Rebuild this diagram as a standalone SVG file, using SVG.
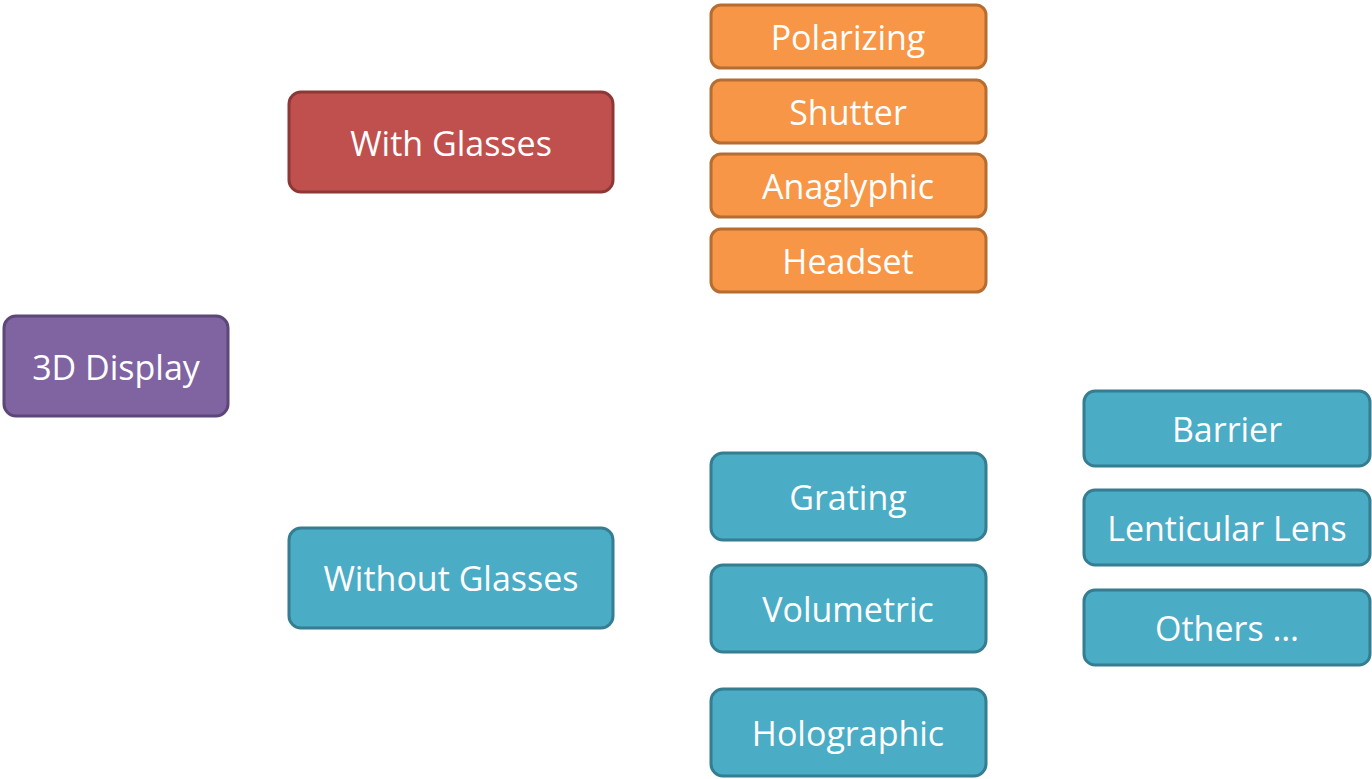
<svg xmlns="http://www.w3.org/2000/svg" width="1372" height="779" viewBox="0 0 1372 779">
<style>
rect{stroke-width:3}
.p{fill:#8064A2;stroke:#5C4776}
.r{fill:#C0504D;stroke:#8C3836}
.o{fill:#F79646;stroke:#B66D31}
.b{fill:#4BACC6;stroke:#357D91}
text{font-family:"Open Sans","Noto Sans",sans-serif;font-size:34px;fill:#FFFFFF;text-anchor:middle;dominant-baseline:central}
</style>
<rect width="1372" height="779" fill="#FFFFFF" stroke="none"/>
<g id="connectors"></g>
<g id="n-3d"><rect class="p" x="4" y="316" width="224" height="100" rx="12"/><text x="116" y="367">3D Display</text></g>
<g id="n-with"><rect class="r" x="289" y="92" width="324" height="100" rx="12"/><text x="451" y="143">With Glasses</text></g>
<g id="n-without"><rect class="b" x="289" y="528" width="324" height="100" rx="12"/><text x="451" y="578">Without Glasses</text></g>
<g id="n-polarizing"><rect class="o" x="711" y="5" width="275" height="63" rx="10"/><text x="848" y="37">Polarizing</text></g>
<g id="n-shutter"><rect class="o" x="711" y="80" width="275" height="63" rx="10"/><text x="848" y="112">Shutter</text></g>
<g id="n-anaglyphic"><rect class="o" x="711" y="154" width="275" height="63" rx="10"/><text x="848" y="186">Anaglyphic</text></g>
<g id="n-headset"><rect class="o" x="711" y="229" width="275" height="63" rx="10"/><text x="848" y="261">Headset</text></g>
<g id="n-grating"><rect class="b" x="711" y="453" width="275" height="87" rx="12"/><text x="848" y="497">Grating</text></g>
<g id="n-volumetric"><rect class="b" x="711" y="565" width="275" height="87" rx="12"/><text x="848" y="609">Volumetric</text></g>
<g id="n-holographic"><rect class="b" x="711" y="689" width="275" height="87" rx="12"/><text x="848" y="733">Holographic</text></g>
<g id="n-barrier"><rect class="b" x="1084" y="391" width="286" height="75" rx="11"/><text x="1227" y="429">Barrier</text></g>
<g id="n-lenticular"><rect class="b" x="1084" y="490" width="286" height="75" rx="11"/><text x="1227" y="528">Lenticular Lens</text></g>
<g id="n-others"><rect class="b" x="1084" y="590" width="286" height="75" rx="11"/><text x="1227" y="628">Others …</text></g>
</svg>
